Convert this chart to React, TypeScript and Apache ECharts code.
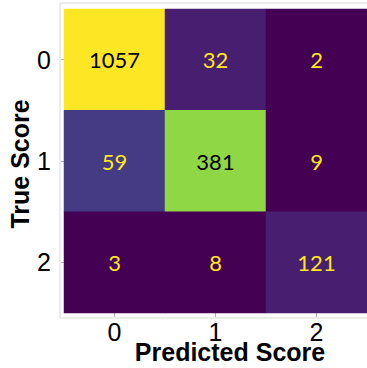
import React, { useEffect, useRef } from "react";
import * as echarts from "echarts";

const predictedCategories = ["0", "1", "2"];
const trueCategories = ["0", "1", "2"];
// rows = true score, columns = predicted score
const confusion = [
  [1057, 32, 2],
  [59, 381, 9],
  [3, 8, 121],
];
const xAxisTitle = "Predicted Score";
const yAxisTitle = "True Score";

export default function App() {
  const ref = useRef<HTMLDivElement>(null);
  useEffect(() => {
    if (!ref.current) return;
    const chart = echarts.init(ref.current, null, { renderer: "svg" });
    const data: any[] = [];
    confusion.forEach((row, r) =>
      row.forEach((v, c) => {
        data.push({
          value: [c, r, v],
          label: { color: v > 300 ? "#000000" : "#ffe81a" },
        });
      })
    );
    chart.setOption({
      animation: false,
      backgroundColor: "#ffffff",
      grid: { left: 64, top: 9, width: 306, height: 304, containLabel: false },
      xAxis: {
        type: "category",
        data: predictedCategories,
        axisLine: { show: false },
        axisTick: { show: true, alignWithLabel: true, length: 4, lineStyle: { color: "#b0b0b0" } },
        axisLabel: { fontSize: 25, color: "#000", fontFamily: "Liberation Sans, Arial", margin: 6 },
        splitLine: { show: false },
        splitArea: { show: false },
      },
      yAxis: {
        type: "category",
        data: trueCategories,
        inverse: true,
        axisLine: { show: false },
        axisTick: { show: true, alignWithLabel: true, length: 3, lineStyle: { color: "#b0b0b0" } },
        axisLabel: { fontSize: 25, color: "#000", fontFamily: "Liberation Sans, Arial", margin: 13 },
        splitLine: { show: false },
        splitArea: { show: false },
      },
      visualMap: {
        type: "piecewise",
        show: false,
        dimension: 2,
        pieces: [
          { min: 1000, color: "#fde725" },
          { min: 300, max: 999, color: "#8fd744" },
          { min: 100, max: 299, color: "#481f70" },
          { min: 50, max: 99, color: "#443b84" },
          { min: 20, max: 49, color: "#481f70" },
          { max: 19, color: "#440154" },
        ],
      },
      graphic: [
        {
          type: "rect",
          shape: { x: 60, y: 3, width: 320, height: 315 },
          style: { fill: "none", stroke: "#d8d8d8", lineWidth: 1 },
          silent: true,
          z: -1,
        },
        {
          type: "text",
          x: 230,
          y: 352,
          style: {
            text: xAxisTitle,
            font: "bold 25px 'Liberation Sans', Arial",
            fill: "#000",
            align: "center",
            verticalAlign: "middle",
          },
        },
        {
          type: "text",
          x: 20,
          y: 164,
          rotation: Math.PI / 2,
          style: {
            text: yAxisTitle,
            font: "bold 25px 'Liberation Sans', Arial",
            fill: "#000",
            align: "center",
            verticalAlign: "middle",
          },
        },
      ],
      series: [
        {
          type: "heatmap",
          data,
          label: {
            show: true,
            fontSize: 22,
            fontFamily: "Lato",
            formatter: (p: any) => String(p.value[2]),
          },
          itemStyle: { borderWidth: 0 },
          emphasis: { disabled: true },
        },
      ],
    });
    return () => chart.dispose();
  }, []);
  return (
    <div
      ref={ref}
      style={{ position: "absolute", left: 0, top: 0, width: 367, height: 368 }}
    />
  );
}
